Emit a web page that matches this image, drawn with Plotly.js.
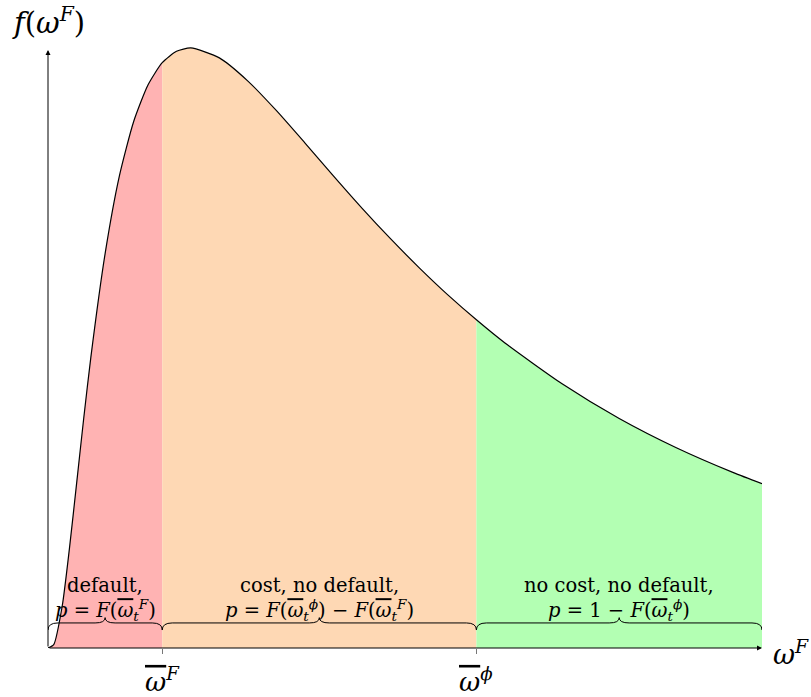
<!DOCTYPE html>
<html>
<head>
<meta charset="utf-8">
<script src="https://cdn.plot.ly/plotly-3.0.1.min.js"></script>
<style>html,body{margin:0;padding:0;background:#fff;}#chart{width:811px;height:697px;}</style>
</head>
<body>
<div id="chart"></div>
<script>
// Density values (x = omega^F, y = f(omega^F))
const omega = [0, 0.02, 0.05, 0.075, 0.1, 0.125, 0.15, 0.2, 0.25, 0.3, 0.35, 0.4, 0.45, 0.5, 0.6, 0.7, 0.8, 0.9, 1.0, 1.1, 1.2, 1.3, 1.4, 1.5, 1.6, 1.8, 2.0, 2.2, 2.4, 2.5];
const density = [0, 0.0027, 0.0341, 0.0801, 0.1324, 0.1851, 0.2344, 0.3181, 0.3808, 0.4246, 0.4540, 0.4720, 0.4812, 0.4839, 0.4759, 0.4572, 0.4333, 0.4072, 0.3806, 0.3546, 0.3299, 0.3066, 0.2848, 0.2647, 0.2460, 0.2131, 0.1851, 0.1615, 0.1414, 0.1325];
// Thresholds
const omegaF = 0.4;
const omegaPhi = 1.5;
const OB = "<span style='text-decoration:overline'><i>ω</i></span>";
const thresholdLabels = [OB + "<sup><i>F</i></sup>", OB + "<sup><i>ϕ</i></sup>"];
// Region labels
const regionLine1 = ["default,", "cost, no default,", "no cost, no default,"];
const regionLine2 = [
  "<i>p</i> = <i>F</i>(" + OB + "<sub><i>t</i></sub><sup><i>F</i></sup>)",
  "<i>p</i> = <i>F</i>(" + OB + "<sub><i>t</i></sub><sup><i>ϕ</i></sup>) − <i>F</i>(" + OB + "<sub><i>t</i></sub><sup><i>F</i></sup>)",
  "<i>p</i> = 1 − <i>F</i>(" + OB + "<sub><i>t</i></sub><sup><i>ϕ</i></sup>)"
];
const fillColors = ["rgb(255,179,179)", "rgb(254,216,180)", "rgb(179,255,179)"];

const xMax = omega[omega.length - 1];
const bounds = [[0, omegaF], [omegaF, omegaPhi], [omegaPhi, xMax]];
const serif = "DejaVu Serif";

const traces = bounds.map((b, i) => {
  const xs = [], ys = [];
  omega.forEach((x, k) => { if (x >= b[0] && x <= b[1]) { xs.push(x); ys.push(density[k]); } });
  return {x: xs, y: ys, type: 'scatter', mode: 'lines', fill: 'tozeroy',
          fillcolor: fillColors[i], line: {width: 0, shape: 'spline', smoothing: 0.6}, hoverinfo: 'skip', showlegend: false};
});
traces.push({x: omega, y: density, type: 'scatter', mode: 'lines',
             line: {color: 'black', width: 1.2, shape: 'spline', smoothing: 0.6}, showlegend: false});

const yTop = 0.5;
// Brace geometry in data units
const yEnd = 0.0145, yBody = 0.0202, yCusp = 0.0245, r = 0.035;
function bracePath(x0, x1) {
  const m = (x0 + x1) / 2;
  return `M ${x0},${yEnd} Q ${x0},${yBody} ${x0 + r},${yBody} L ${m - r},${yBody} Q ${m},${yBody} ${m},${yCusp} Q ${m},${yBody} ${m + r},${yBody} L ${x1 - r},${yBody} Q ${x1},${yBody} ${x1},${yEnd}`;
}
const shapes = bounds.map(b => ({type: 'path', xref: 'x', yref: 'y', path: bracePath(b[0], b[1]),
  line: {color: 'black', width: 1}}));

const annotations = [];
// axes arrows
annotations.push({x: xMax, y: 0, ax: 0, ay: 0, axref: 'x', ayref: 'y', xref: 'x', yref: 'y',
  showarrow: true, arrowhead: 2, arrowsize: 1, arrowwidth: 1, arrowcolor: 'black', text: ''});
annotations.push({x: 0, y: 0.4823, ax: 0, ay: 0, axref: 'x', ayref: 'y', xref: 'x', yref: 'y',
  showarrow: true, arrowhead: 2, arrowsize: 1, arrowwidth: 1, arrowcolor: 'black', text: ''});
// axis labels
annotations.push({xref: 'paper', yref: 'paper', x: 0.001, y: 1.012, xanchor: 'center', yanchor: 'middle',
  text: "<i>f</i>(<i>ω</i><sup><i>F</i></sup>)", showarrow: false, font: {family: serif, size: 29, color: 'black'}});
annotations.push({xref: 'paper', yref: 'paper', x: 1.04, y: -0.008, xanchor: 'center', yanchor: 'middle',
  text: "<i>ω</i><sup><i>F</i></sup>", showarrow: false, font: {family: serif, size: 27, color: 'black'}});
// threshold labels
[omegaF, omegaPhi].forEach((t, i) => {
  annotations.push({xref: 'x', yref: 'paper', x: t, y: -0.052, xanchor: 'center', yanchor: 'middle',
    text: thresholdLabels[i], showarrow: false, font: {family: serif, size: 26, color: 'black'}});
});
// region labels
bounds.forEach((b, i) => {
  const m = (b[0] + b[1]) / 2;
  annotations.push({xref: 'x', yref: 'y', x: m, y: (648 - 585) / 1240, xanchor: 'center', yanchor: 'middle',
    text: regionLine1[i], showarrow: false, font: {family: serif, size: 19.5, color: 'black'}});
  annotations.push({xref: 'x', yref: 'y', x: m, y: (648 - 610) / 1240, xanchor: 'center', yanchor: 'middle',
    text: regionLine2[i], showarrow: false, font: {family: serif, size: 19.5, color: 'black'}});
});

const layout = {
  width: 811, height: 697,
  margin: {l: 48, r: 49, t: 28, b: 49},
  paper_bgcolor: 'white', plot_bgcolor: 'white',
  xaxis: {range: [0, xMax], showgrid: false, zeroline: false, showline: false,
          tickvals: [omegaF, omegaPhi], ticktext: ['', ''], ticks: 'outside', ticklen: 5, tickcolor: '#777', tickwidth: 1},
  yaxis: {range: [0, yTop], showgrid: false, zeroline: false, showline: false, showticklabels: false, ticks: ''},
  shapes: shapes,
  annotations: annotations,
  showlegend: false
};
Plotly.newPlot('chart', traces, layout, {staticPlot: true});
</script>
</body>
</html>
